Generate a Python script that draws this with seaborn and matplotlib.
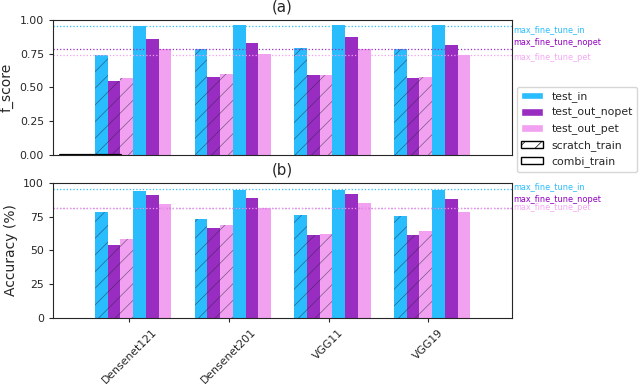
import numpy as np
import pandas as pd
import matplotlib.pyplot as plt
import seaborn as sns
from matplotlib.patches import Patch

models = ['Densenet121', 'Densenet201', 'VGG11', 'VGG19']
splits = ['test_in', 'test_out_nopet', 'test_out_pet']
trainings = ['scratch_train', 'combi_train']

# panel (a): f_score
f_scratch_in = [0.74, 0.78, 0.79, 0.78]
f_scratch_nopet = [0.55, 0.58, 0.59, 0.57]
f_scratch_pet = [0.57, 0.60, 0.59, 0.58]
f_combi_in = [0.95, 0.96, 0.96, 0.96]
f_combi_nopet = [0.86, 0.83, 0.87, 0.81]
f_combi_pet = [0.78, 0.75, 0.78, 0.74]

# panel (b): accuracy (%)
acc_scratch_in = [78.6, 73.4, 76.4, 75.6]
acc_scratch_nopet = [54.2, 66.5, 61.6, 61.3]
acc_scratch_pet = [58.2, 68.7, 62.3, 64.3]
acc_combi_in = [93.9, 94.8, 94.8, 94.8]
acc_combi_nopet = [90.9, 88.5, 91.6, 87.7]
acc_combi_pet = [84.3, 81.1, 84.8, 78.6]

# reference lines: max fine tune results
f_max_fine_tune = [0.956, 0.783, 0.739]
acc_max_fine_tune = [95.0, 81.2, 81.2]

colours = ['#29BDFD', '#9A2DC1', '#F1A1EF']
text_colours = ['#29BDFD', '#9000C0', '#F5A8F5']


def long_table(series):
    rows = []
    for t, train in enumerate(trainings):
        for s, split in enumerate(splits):
            for m, model in enumerate(models):
                rows.append({'model': model, 'combo': f'{train}|{split}',
                             'value': series[t][s][m]})
    return pd.DataFrame(rows)


df_f = long_table([[f_scratch_in, f_scratch_nopet, f_scratch_pet],
                   [f_combi_in, f_combi_nopet, f_combi_pet]])
df_acc = long_table([[acc_scratch_in, acc_scratch_nopet, acc_scratch_pet],
                     [acc_combi_in, acc_combi_nopet, acc_combi_pet]])
combo_order = [f'{t}|{s}' for t in trainings for s in splits]

sns.set_style('ticks')
plt.rcParams['hatch.linewidth'] = 0.5

fig = plt.figure(figsize=(6.4, 3.86), dpi=100)
ax_a = fig.add_axes([0.0828, 0.598, 0.717, 0.351])
ax_b = fig.add_axes([0.0828, 0.1762, 0.717, 0.3505])

tick_pos = np.arange(len(models)) - 0.039


def draw_panel(ax, df, maxes, text_y):
    sns.barplot(data=df, x='model', y='value', hue='combo', hue_order=combo_order,
                palette=colours * 2, saturation=1, width=0.768, errorbar=None,
                legend=False, ax=ax, linewidth=0)
    for i, cont in enumerate(ax.containers):
        for bar in cont:
            if i < 3:
                bar.set_hatch('//')
                bar.set_edgecolor((0.15, 0.15, 0.25, 0.6))
                bar.set_linewidth(0)
    for val, c, ty, lab, tc in zip(maxes, colours, text_y,
                                   ['max_fine_tune_in', 'max_fine_tune_nopet',
                                    'max_fine_tune_pet'], text_colours):
        ax.axhline(val, color=c, ls=':', lw=0.9)
        ax.text(1.002, ty, lab, color=tc, fontsize=5.9, va='center',
                transform=ax.get_yaxis_transform())
    ax.set_xlim(-0.804, 3.80)
    ax.set_xticks(tick_pos)
    ax.tick_params(labelsize=7.8, length=3)
    ax.set_xlabel('')


draw_panel(ax_a, df_f, f_max_fine_tune, [0.93, 0.833, 0.719])
ax_a.set_ylim(0, 1.0)
ax_a.set_yticks([0, 0.25, 0.5, 0.75, 1.0])
ax_a.set_yticklabels(['0.00', '0.25', '0.50', '0.75', '1.00'])
ax_a.set_xticklabels([])
ax_a.tick_params(axis='x', bottom=False)
ax_a.axhline(0, xmin=0.015, xmax=0.148, color='black', lw=1.6)
ax_a.set_ylabel('f_score', fontsize=10)
ax_a.set_title('(a)', fontsize=10.8, pad=6)

draw_panel(ax_b, df_acc, acc_max_fine_tune, [97.1, 87.7, 81.5])
ax_b.set_ylim(0, 100)
ax_b.set_yticks([0, 25, 50, 75, 100])
ax_b.set_xticklabels(models, rotation=45, ha='center')
ax_b.set_ylabel('Accuracy (%)', fontsize=10)
ax_b.set_title('(b)', fontsize=10.8, pad=6)

handles = [Patch(facecolor=c, label=s) for c, s in zip(colours, splits)]
handles.append(Patch(facecolor='white', edgecolor='black', hatch='//',
                     label='scratch_train'))
handles.append(Patch(facecolor='white', edgecolor='black', label='combi_train'))
fig.legend(handles=handles, loc='upper left', bbox_to_anchor=(0.808, 0.775),
           borderaxespad=0, fontsize=7.8, frameon=True)

fig.savefig('out.png', dpi=100)
